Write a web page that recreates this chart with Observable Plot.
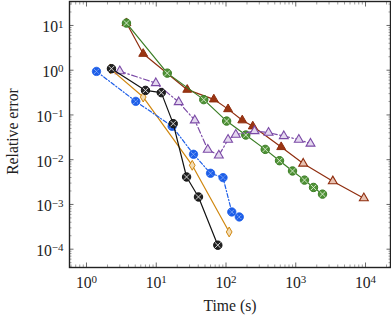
<!DOCTYPE html>
<html><head><meta charset="utf-8">
<script src="https://cdn.jsdelivr.net/npm/d3@7"></script>
<script src="https://cdn.jsdelivr.net/npm/@observablehq/plot@0.6"></script>
<style>body{margin:0;background:#fff} svg{display:block}</style>
</head><body><div id="chart"></div>
<script>
const greenTime = [3.74, 14.4, 48, 102, 192, 365, 585, 898, 1334, 1796, 2417];
const greenErr = [11.3, 0.86, 0.22, 0.073, 0.0356, 0.017, 0.0095, 0.0056, 0.0035, 0.0024, 0.0017];
const brownTime = [3.74, 6.5, 27.8, 66.9, 107, 171, 242, 618, 1279, 3398, 9458];
const brownErr = [11.3, 2.33, 0.367, 0.223, 0.135, 0.076, 0.0557, 0.0192, 0.0082, 0.0033, 0.00138];
const purpleTime = [3.0, 9.86, 21, 35.7, 54.8, 78.9, 107, 138, 256, 407, 674, 1106, 1627];
const purpleErr = [0.95, 0.515, 0.194, 0.076, 0.0168, 0.0125, 0.028, 0.0363, 0.0437, 0.0403, 0.0338, 0.0281, 0.0229];
const blueTime = [1.39, 5.09, 16.9, 34.2, 60, 90.6, 121, 155];
const blueErr = [0.94, 0.201, 0.0557, 0.0132, 0.00497, 0.00398, 0.00068, 0.000526];
const blackTime = [2.28, 7.01, 11.8, 17.5, 27.2, 40.3, 76.3];
const blackErr = [1.08, 0.354, 0.315, 0.064, 0.00411, 0.00147, 0.000123];
const orangeTime = [2.2, 6.5, 32.8, 111];
const orangeErr = [1.07, 0.251, 0.0075, 0.000243];
const xTickExponents = [0, 1, 2, 3, 4];
const yTickExponents = [-4, -3, -2, -1, 0, 1];
const xLabel = "Time (s)";
const yLabel = "Relative error";

const pts = (t, e) => t.map((v, i) => ({t: v, e: e[i], i}));
const green = pts(greenTime, greenErr);
const brown = pts(brownTime, brownErr);
const purple = pts(purpleTime, purpleErr);
const blue = pts(blueTime, blueErr);
const black = pts(blackTime, blackErr);
const orange = pts(orangeTime, orangeErr);

const xDomain = [0.5706, 22810];
const yDomain = [3.9e-5, 34.3];
const xMajor = xTickExponents.map(e => 10 ** e);
const yMajor = yTickExponents.map(e => 10 ** e);
const minor = ([lo, hi]) => {
  const out = [];
  for (let e = Math.floor(Math.log10(lo)); e <= Math.ceil(Math.log10(hi)); e++)
    for (let m = 2; m <= 9; m++) { const v = m * 10 ** e; if (v > lo && v < hi) out.push(v); }
  return out;
};
const xMinor = minor(xDomain), yMinor = minor(yDomain);
const fmt = d => "10^" + Math.round(Math.log10(d));

const FONT = "'Liberation Serif', 'DejaVu Serif', serif";
const FS = 15.7;
const C = {green: "#3a7d24", greenFill: "#4f9236", brown: "#8f2d0e", brownFill: "#9a3512", brownLight: "#e8c2b2",
  purple: "#7b4aa6", purpleFill: "#e4d8ef", blue: "#1d5ee8", black: "#111111", orange: "#d0870f", orangeFill: "#f3dcb3"};
const P = {x: "t", y: "e"};
const tickCol = "#444";

const noText = () => "";
const chart = Plot.plot({
  width: 391, height: 321,
  marginLeft: 69, marginRight: 1, marginTop: 1, marginBottom: 54,
  style: {fontFamily: FONT, fontSize: FS + "px", background: "#fff", color: "#222"},
  x: {type: "log", domain: xDomain, label: null},
  y: {type: "log", domain: yDomain, label: null},
  marks: [
    // inward minor ticks
    Plot.axisX(xMinor, {anchor: "bottom", tickSize: -2.5, tickFormat: noText, label: null, stroke: "#777", strokeWidth: 0.7}),
    Plot.axisX(xMinor, {anchor: "top", tickSize: -2.5, tickFormat: noText, label: null, stroke: "#777", strokeWidth: 0.7}),
    Plot.axisY(yMinor, {anchor: "left", tickSize: -2.5, tickFormat: noText, label: null, stroke: "#777", strokeWidth: 0.7}),
    Plot.axisY(yMinor, {anchor: "right", tickSize: -2.5, tickFormat: noText, label: null, stroke: "#777", strokeWidth: 0.7}),
    // inward major ticks
    Plot.axisX(xMajor, {anchor: "bottom", tickSize: -4.5, tickFormat: noText, label: null, stroke: tickCol, strokeWidth: 0.8}),
    Plot.axisX(xMajor, {anchor: "top", tickSize: -4.5, tickFormat: noText, label: null, stroke: tickCol, strokeWidth: 0.8}),
    Plot.axisY(yMajor, {anchor: "left", tickSize: -4.5, tickFormat: noText, label: null, stroke: tickCol, strokeWidth: 0.8}),
    Plot.axisY(yMajor, {anchor: "right", tickSize: -4.5, tickFormat: noText, label: null, stroke: tickCol, strokeWidth: 0.8}),
    // tick labels
    Plot.axisX(xMajor, {anchor: "bottom", tickSize: 0, tickPadding: 9, tickFormat: fmt, label: null, fontSize: FS, fontFamily: FONT, fill: "#222"}),
    Plot.axisY(yMajor, {anchor: "left", tickSize: 0, tickPadding: 6, tickFormat: fmt, label: null, fontSize: FS, fontFamily: FONT, fill: "#222", dy: 2}),
    // axis titles
    Plot.text([xLabel], {text: d => d, frameAnchor: "bottom", textAnchor: "middle", dy: 43, fontSize: FS, fontFamily: FONT, fill: "#222"}),
    Plot.text([yLabel], {text: d => d, frameAnchor: "left", textAnchor: "middle", rotate: -90, dx: -57, dy: -3, fontSize: FS, fontFamily: FONT, fill: "#222"}),
    Plot.frame({stroke: "#222", strokeWidth: 1.4}),
    // brown
    Plot.line(brown, {...P, stroke: C.brown, strokeWidth: 1.2}),
    Plot.dot(brown.filter(d => d.i < 8), {...P, symbol: "triangle", r: 3.3, fill: C.brownFill, stroke: C.brown, strokeWidth: 1}),
    Plot.dot(brown.filter(d => d.i >= 8), {...P, symbol: "triangle", r: 3.3, fill: C.brownLight, stroke: C.brown, strokeWidth: 1.1}),
    // green
    Plot.line(green, {...P, stroke: C.green, strokeWidth: 1.2}),
    Plot.dot(green, {...P, r: 4.2, fill: C.greenFill, stroke: C.green, strokeWidth: 1}),
    Plot.dot(green, {...P, symbol: "times", r: 2.6, stroke: "#dfeed6", strokeWidth: 0.9}),
    // purple
    Plot.line(purple, {...P, stroke: C.purple, strokeWidth: 1.2, strokeDasharray: "6,2.5,1.5,2.5"}),
    Plot.dot(purple, {...P, symbol: "triangle", r: 3.3, fill: C.purpleFill, stroke: C.purple, strokeWidth: 1.1}),
    // orange
    Plot.line(orange, {...P, stroke: C.orange, strokeWidth: 1.2}),
    Plot.dot(orange, {...P, symbol: "diamond", r: 3, fill: C.orangeFill, stroke: C.orange, strokeWidth: 1}),
    // blue
    Plot.line(blue, {...P, stroke: C.blue, strokeWidth: 1.2, strokeDasharray: "4,2,1.2,2"}),
    Plot.dot(blue, {...P, r: 4.2, fill: C.blue, stroke: C.blue, strokeWidth: 0.8}),
    Plot.dot(blue, {...P, symbol: "times", r: 2.4, stroke: "#cfe0ff", strokeWidth: 0.8, strokeDasharray: "1,0.8"}),
    // black
    Plot.line(black, {...P, stroke: C.black, strokeWidth: 1.2}),
    Plot.dot(black, {...P, r: 4.2, fill: "#222", stroke: C.black, strokeWidth: 1}),
    Plot.dot(black, {...P, symbol: "times", r: 2.6, stroke: "#e6e6e6", strokeWidth: 0.9})
  ]
});

chart.querySelectorAll('g[aria-label$="tick label"] text').forEach(t => {
  const s = t.textContent;
  if (!s.startsWith("10^")) return;
  const exp = s.slice(3).replace("-", "\u2212");
  t.textContent = "10";
  const ts = document.createElementNS("http://www.w3.org/2000/svg", "tspan");
  ts.setAttribute("dy", "-0.45em");
  ts.setAttribute("font-size", "0.7em");
  ts.textContent = exp;
  t.appendChild(ts);
});
document.getElementById("chart").appendChild(chart);
</script>
</body></html>
